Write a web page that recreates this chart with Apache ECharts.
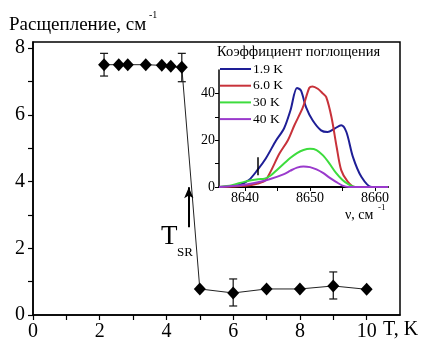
<!DOCTYPE html>
<html>
<head>
<meta charset="utf-8">
<script src="https://cdn.jsdelivr.net/npm/echarts@6/dist/echarts.min.js"></script>
<style>
  html, body { margin: 0; padding: 0; background: #fff; }
  #main { width: 425px; height: 343px; }
</style>
</head>
<body>
<div id="main"></div>
<script>
// main plot: splitting vs temperature
const temps = [2.13, 2.57, 2.84, 3.38, 3.86, 4.13, 4.46, 5, 6, 7, 8, 9, 10];
const splitting = [7.5, 7.5, 7.5, 7.5, 7.48, 7.45, 7.42, 0.78, 0.66, 0.78, 0.78, 0.87, 0.77];
// error bars
const errT = [2.13, 4.46, 6, 9];
const errLow = [7.16, 6.99, 0.27, 0.48];
const errHigh = [7.84, 7.84, 1.08, 1.29];
// T_SR arrow
const tsrT = 4.67;
const tsrFrom = 2.63;
const tsrTo = 3.83;

// inset: absorption spectra
const nuBlue = [8636, 8639.1, 8640.6, 8641.9, 8643.2, 8644.8, 8646, 8647, 8648, 8648.6, 8649.4, 8650.4, 8651.7, 8652.7, 8653.8, 8654.8, 8655.6, 8656.6, 8657.9, 8659.5, 8662];
const absBlue = [0, 0.9, 3, 7.2, 12.2, 20, 25, 32.8, 42.3, 41.3, 34, 28.5, 24.2, 23.5, 25, 26.4, 23.5, 12.9, 4.4, 0, 0];
const nuRed = [8636, 8640, 8642, 8643.2, 8645.3, 8646.6, 8647.6, 8648.9, 8649.9, 8650.4, 8651.2, 8652, 8652.5, 8653.3, 8654.1, 8654.8, 8655.8, 8656.9, 8662];
const absRed = [0, 0.5, 1.5, 3, 14.3, 20, 26.4, 34, 42.4, 43, 42, 39.9, 38.4, 29.9, 17.1, 7.2, 2.3, 0, 0];
const nuGreen = [8636, 8638, 8640, 8642, 8643, 8644, 8645, 8646, 8647, 8648, 8649, 8650, 8651, 8652, 8653, 8654, 8655, 8656, 8657, 8662];
const absGreen = [0, 0.8, 2.3, 3.3, 3.5, 5, 7.5, 10, 12.5, 14.5, 15.8, 16.3, 15.8, 13.5, 10, 6, 3, 1, 0, 0];
const nuPurple = [8636, 8638, 8640, 8642, 8644, 8646, 8647, 8648, 8649, 8650, 8651, 8652, 8653, 8654, 8655, 8656, 8662];
const absPurple = [0, 0.4, 1, 2, 3.5, 5.5, 7, 8.3, 8.8, 8.5, 7.5, 6, 4, 2.2, 0.6, 0, 0];
const markNu = 8642;
const markAbs = [5, 12.7];

const legendNames = ["1.9 K", "6.0 K", "30 K", "40 K"];
const mainXLabels = [0, 2, 4, 6, 8, 10];
const mainYLabels = [0, 2, 4, 6, 8];
const insetXLabels = [8640, 8650, 8660];
const insetYLabels = [0, 20, 40];

const zip = (a, b) => a.map((v, i) => [v, b[i]]);
const serif = "Liberation Serif";
const plain = (v) => String(v);

const chart = echarts.init(document.getElementById("main"));

const axisBase = (fontSize) => ({
  axisLine: { show: true, lineStyle: { color: "#000", width: 1.5 } },
  axisTick: { show: true, inside: false, length: 5, lineStyle: { color: "#000", width: 1.2 } },
  axisLabel: { color: "#000", fontFamily: serif, fontSize: fontSize },
  splitLine: { show: false },
});

chart.setOption({
  animation: false,
  backgroundColor: "#fff",
  grid: [
    { left: 33, top: 42, right: 25, bottom: 28, show: true, borderColor: "#000", borderWidth: 1.5 },
    { left: 219, top: 70, right: 37, bottom: 156 },
  ],
  xAxis: [
    Object.assign(axisBase(20), {
      type: "value", gridIndex: 0, min: 0, max: 11,
      axisLabel: { color: "#000", fontFamily: serif, fontSize: 20, margin: 7, customValues: mainXLabels, formatter: plain },
      axisTick: { show: true, inside: false, length: 5, lineStyle: { color: "#000", width: 1.2 },
        customValues: [0, 1, 2, 3, 4, 5, 6, 7, 8, 9, 10] },
    }),
    Object.assign(axisBase(14), {
      type: "value", gridIndex: 1, min: 8636, max: 8662,
      axisLine: { show: true, lineStyle: { color: "#000", width: 2 } },
      axisLabel: { color: "#000", fontFamily: serif, fontSize: 14, margin: 4, customValues: insetXLabels, formatter: plain },
      axisTick: { show: true, inside: false, length: 4, lineStyle: { color: "#000", width: 1 },
        customValues: [8640, 8645, 8650, 8655, 8660] },
    }),
  ],
  yAxis: [
    Object.assign(axisBase(20), {
      type: "value", gridIndex: 0, min: 0, max: 8.18,
      axisLabel: { color: "#000", fontFamily: serif, fontSize: 20, margin: 8, customValues: mainYLabels, formatter: plain },
      axisTick: { show: true, inside: false, length: 5, lineStyle: { color: "#000", width: 1.2 },
        customValues: [0, 1, 2, 3, 4, 5, 6, 7, 8] },
    }),
    Object.assign(axisBase(14), {
      type: "value", gridIndex: 1, min: 0, max: 50,
      axisLabel: { color: "#000", fontFamily: serif, fontSize: 14, margin: 4, customValues: insetYLabels, formatter: plain },
      axisTick: { show: true, inside: false, length: 4, lineStyle: { color: "#000", width: 1 },
        customValues: [0, 10, 20, 30, 40] },
    }),
  ],
  legend: {
    left: 220, top: 62, orient: "vertical",
    icon: "rect",
    padding: 0,
    itemWidth: 31, itemHeight: 2, itemGap: 2.7,
    textStyle: { fontFamily: serif, fontSize: 13.5, lineHeight: 14, color: "#000", padding: [0, 0, 0, -3] },
    data: legendNames,
  },
  graphic: [
    { type: "text", left: 9, top: 16, style: { text: "Расщепление, см", fontFamily: serif, fontSize: 19, fill: "#000" } },
    { type: "text", left: 149, top: 10, style: { text: "-1", fontFamily: serif, fontSize: 10, fill: "#000" } },
    { type: "text", left: 383, top: 320, style: { text: "T, K", fontFamily: serif, fontSize: 20, fill: "#000" } },
    { type: "text", left: 161, top: 223, style: { text: "T", fontFamily: serif, fontSize: 27, fill: "#000" } },
    { type: "text", left: 177, top: 246, style: { text: "SR", fontFamily: serif, fontSize: 13, fill: "#000" } },
    { type: "text", left: 217, top: 45, style: { text: "Коэффициент поглощения", fontFamily: serif, fontSize: 14.5, fill: "#000" } },
    { type: "text", left: 345, top: 208, style: { text: "ν, см", fontFamily: serif, fontSize: 14, fill: "#000" } },
    { type: "text", left: 378, top: 203, style: { text: "-1", fontFamily: serif, fontSize: 9, fill: "#000" } },
  ],
  series: [
    {
      type: "custom",
      xAxisIndex: 0, yAxisIndex: 0,
      data: errT.map((t, i) => [t, errLow[i], errHigh[i]]),
      renderItem: (params, api) => {
        const lo = api.coord([api.value(0), api.value(1)]);
        const hi = api.coord([api.value(0), api.value(2)]);
        const w = 4;
        const st = { stroke: "#111", lineWidth: 1.2 };
        return {
          type: "group",
          children: [
            { type: "line", shape: { x1: lo[0], y1: lo[1], x2: hi[0], y2: hi[1] }, style: st },
            { type: "line", shape: { x1: lo[0] - w, y1: lo[1], x2: lo[0] + w, y2: lo[1] }, style: st },
            { type: "line", shape: { x1: hi[0] - w, y1: hi[1], x2: hi[0] + w, y2: hi[1] }, style: st },
          ],
        };
      },
      z: 2,
    },
    {
      type: "line",
      xAxisIndex: 0, yAxisIndex: 0,
      data: zip(temps, splitting),
      symbol: "diamond",
      symbolSize: [12, 13],
      itemStyle: { color: "#000" },
      lineStyle: { color: "#222", width: 1 },
      markLine: {
        silent: true,
        symbol: ["none", "arrow"],
        symbolSize: [7, 11],
        label: { show: false },
        lineStyle: { color: "#000", width: 2, type: "solid" },
        data: [[{ coord: [tsrT, tsrFrom] }, { coord: [tsrT, tsrTo] }]],
      },
      z: 3,
    },
    {
      name: legendNames[0], type: "line", xAxisIndex: 1, yAxisIndex: 1,
      data: zip(nuBlue, absBlue), smooth: 0.3, showSymbol: false, symbol: "none",
      itemStyle: { color: "#1e1e96" }, lineStyle: { color: "#1e1e96", width: 2 },
    },
    {
      name: legendNames[1], type: "line", xAxisIndex: 1, yAxisIndex: 1,
      data: zip(nuRed, absRed), smooth: 0.3, showSymbol: false, symbol: "none",
      itemStyle: { color: "#c8323a" }, lineStyle: { color: "#c8323a", width: 2 },
    },
    {
      name: legendNames[2], type: "line", xAxisIndex: 1, yAxisIndex: 1,
      data: zip(nuGreen, absGreen), smooth: 0.3, showSymbol: false, symbol: "none",
      itemStyle: { color: "#3ddc3d" }, lineStyle: { color: "#3ddc3d", width: 2 },
    },
    {
      name: legendNames[3], type: "line", xAxisIndex: 1, yAxisIndex: 1,
      data: zip(nuPurple, absPurple), smooth: 0.3, showSymbol: false, symbol: "none",
      itemStyle: { color: "#9a3acc" }, lineStyle: { color: "#9a3acc", width: 2 },
    },
    {
      type: "line", xAxisIndex: 1, yAxisIndex: 1,
      data: markAbs.map((a) => [markNu, a]), showSymbol: false, symbol: "none",
      lineStyle: { color: "#000", width: 1.5 }, z: 4,
    },
  ],
});

window.addEventListener("resize", () => chart.resize());
</script>
</body>
</html>
